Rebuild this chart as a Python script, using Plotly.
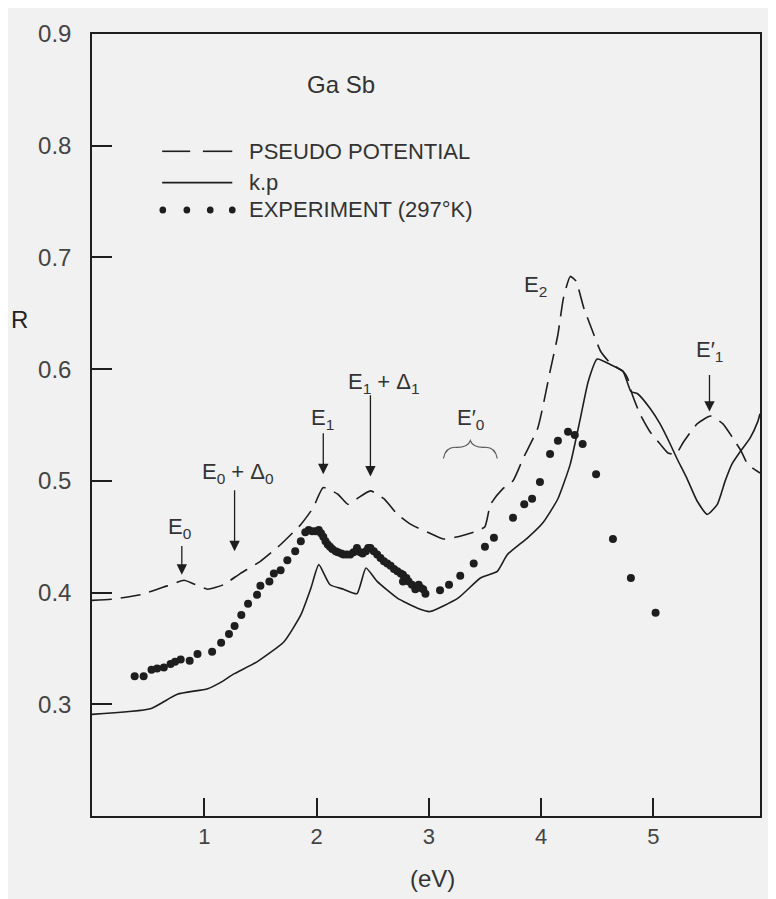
"""
GaSb reflectivity: pseudopotential vs k.p vs experiment
"""
import plotly.graph_objects as go

# pseudopotential curve (dashed)
pseudo_x = [0.0, 0.17, 0.43, 0.67, 0.82, 0.90, 1.03, 1.17, 1.32, 1.50, 1.68, 1.86,
            1.97, 2.06, 2.19, 2.28, 2.36, 2.48, 2.60, 2.72, 2.84, 2.99, 3.13, 3.26,
            3.43, 3.50, 3.55, 3.66, 3.75, 3.84, 3.97, 4.08, 4.15, 4.20, 4.26, 4.31,
            4.38, 4.47, 4.53, 4.62, 4.73, 4.77, 4.81, 4.88, 4.97, 5.06, 5.13, 5.20,
            5.27, 5.39, 5.51, 5.62, 5.71, 5.78, 5.84, 5.95]
pseudo_y = [0.393, 0.394, 0.398, 0.406, 0.411, 0.408, 0.403, 0.407, 0.417, 0.428, 0.443, 0.461,
            0.476, 0.494, 0.488, 0.479, 0.484, 0.491, 0.484, 0.470, 0.461, 0.454, 0.448, 0.450,
            0.455, 0.459, 0.479, 0.493, 0.500, 0.520, 0.547, 0.598, 0.631, 0.664, 0.683, 0.679,
            0.655, 0.631, 0.616, 0.605, 0.598, 0.592, 0.578, 0.560, 0.544, 0.533, 0.525, 0.524,
            0.535, 0.551, 0.558, 0.551, 0.538, 0.527, 0.515, 0.507]

# k.p curve (solid)
kp_x = [0.0, 0.52, 0.76, 1.03, 1.17, 1.26, 1.47, 1.71, 1.86, 1.95, 2.02, 2.12,
        2.24, 2.36, 2.44, 2.54, 2.72, 2.90, 3.01, 3.26, 3.46, 3.61, 3.70, 3.88,
        4.02, 4.15, 4.26, 4.35, 4.42, 4.50, 4.62, 4.73, 4.80, 4.86, 4.97, 5.06,
        5.15, 5.21, 5.30, 5.39, 5.48, 5.57, 5.64, 5.70, 5.78, 5.86, 5.93, 5.95]
kp_y = [0.291, 0.296, 0.309, 0.314, 0.321, 0.327, 0.338, 0.356, 0.380, 0.404, 0.425, 0.407,
        0.403, 0.399, 0.422, 0.410, 0.395, 0.386, 0.383, 0.395, 0.413, 0.419, 0.434, 0.449,
        0.463, 0.484, 0.515, 0.556, 0.589, 0.609, 0.604, 0.598, 0.580, 0.578, 0.565, 0.551,
        0.533, 0.520, 0.502, 0.482, 0.470, 0.479, 0.500, 0.515, 0.527, 0.538, 0.553, 0.560]

# experiment at 297 K (dots)
exp_x = [0.38, 0.46, 0.53, 0.58, 0.64, 0.70, 0.74, 0.79, 0.87, 0.94, 1.07, 1.15,
         1.22, 1.27, 1.33, 1.39, 1.47, 1.50, 1.58, 1.62, 1.68, 1.74, 1.81, 1.86,
         1.90, 1.93, 1.96, 1.99, 2.02, 2.04, 2.06, 2.08, 2.10, 2.12, 2.14, 2.17,
         2.19, 2.22, 2.24, 2.27, 2.30, 2.33, 2.36, 2.39, 2.41, 2.44, 2.46, 2.48,
         2.51, 2.54, 2.57, 2.60, 2.63, 2.66, 2.69, 2.72, 2.75, 2.77, 2.77, 2.80,
         2.82, 2.85, 2.88, 2.91, 2.93, 2.95, 2.97, 3.10, 3.18, 3.28, 3.40, 3.50,
         3.58, 3.75, 3.85, 3.92, 3.99, 4.08, 4.15, 4.24, 4.30, 4.37, 4.49, 4.64,
         4.80, 5.02]
exp_y = [0.325, 0.325, 0.331, 0.332, 0.333, 0.336, 0.338, 0.340, 0.339, 0.345, 0.347, 0.355,
         0.363, 0.370, 0.380, 0.390, 0.398, 0.406, 0.410, 0.417, 0.420, 0.429, 0.437, 0.446,
         0.454, 0.456, 0.455, 0.455, 0.456, 0.453, 0.450, 0.446, 0.443, 0.441, 0.439, 0.437,
         0.436, 0.435, 0.434, 0.434, 0.434, 0.436, 0.440, 0.436, 0.435, 0.437, 0.440, 0.440,
         0.437, 0.434, 0.431, 0.428, 0.426, 0.424, 0.421, 0.419, 0.417, 0.416, 0.410, 0.413,
         0.410, 0.407, 0.403, 0.407, 0.404, 0.403, 0.399, 0.402, 0.407, 0.415, 0.426, 0.441,
         0.449, 0.467, 0.479, 0.484, 0.499, 0.524, 0.536, 0.544, 0.541, 0.533, 0.506, 0.448,
         0.413, 0.382]

x_ticks = [1, 2, 3, 4, 5]
y_ticks = [0.3, 0.4, 0.5, 0.6, 0.7, 0.8, 0.9]
y_tick_labels = ["0.3", "0.4", "0.5", "0.6", "0.7", "0.8", "0.9"]

# transition labels: (text, x, y)
labels = [
    ("E<sub>0</sub>", 0.78, 0.458),
    ("E<sub>0</sub> + Δ<sub>0</sub>", 1.30, 0.507),
    ("E<sub>1</sub>", 2.05, 0.555),
    ("E<sub>1</sub> + Δ<sub>1</sub>", 2.60, 0.588),
    ("E′<sub>0</sub>", 3.37, 0.555),
    ("E<sub>2</sub>", 3.95, 0.674),
    ("E′<sub>1</sub>", 5.50, 0.616),
]
# arrows: (x, y_tail, y_head)
arrows = [
    (0.80, 0.443, 0.416),
    (1.27, 0.493, 0.437),
    (2.06, 0.544, 0.506),
    (2.48, 0.578, 0.504),
    (5.50, 0.596, 0.562),
]

INK = "#1e1e1e"
BG = "#f1f1f1"
FONT = "Liberation Sans"

fig = go.Figure()
fig.add_trace(go.Scatter(x=pseudo_x, y=pseudo_y, mode="lines",
                         line=dict(color=INK, width=1.6, dash="20px,9px",
                                   shape="spline", smoothing=0.5)))
fig.add_trace(go.Scatter(x=kp_x, y=kp_y, mode="lines",
                         line=dict(color=INK, width=1.6, shape="spline", smoothing=0.5)))
fig.add_trace(go.Scatter(x=exp_x, y=exp_y, mode="markers",
                         marker=dict(color=INK, size=8)))

for txt, lx, ly in labels:
    fig.add_annotation(x=lx, y=ly, text=txt, showarrow=False,
                       font=dict(family=FONT, size=22, color="#333"))
for ax_, y0, y1 in arrows:
    fig.add_annotation(x=ax_, y=y1, ax=ax_, ay=y0, axref="x", ayref="y",
                       text="", showarrow=True, arrowhead=2, arrowsize=1.6,
                       arrowwidth=1.3, arrowcolor=INK)

# brace over E'0
fig.add_shape(type="path", xref="x", yref="y",
              path="M 3.13,0.520 Q 3.15,0.531 3.25,0.530 Q 3.35,0.530 3.37,0.536 "
                   "Q 3.39,0.530 3.49,0.530 Q 3.59,0.531 3.61,0.520",
              line=dict(color="#555", width=1.2))

# title and hand-drawn legend like the original
fig.add_annotation(x=0.373, y=0.935, xref="paper", yref="paper", text="Ga Sb",
                   xanchor="center", yanchor="middle", showarrow=False,
                   font=dict(family=FONT, size=24, color="#333"))
leg_rows = [0.850, 0.810, 0.775]
leg_text = ["PSEUDO POTENTIAL", "k.p", "EXPERIMENT (297°K)"]
for yy, t in zip(leg_rows, leg_text):
    fig.add_annotation(x=0.232, y=yy, xref="paper", yref="paper", text=t,
                       xanchor="left", yanchor="middle", showarrow=False,
                       font=dict(family=FONT, size=22, color="#333"))
fig.add_shape(type="line", xref="paper", yref="paper", x0=0.105, x1=0.147,
              y0=leg_rows[0], y1=leg_rows[0], line=dict(color=INK, width=1.6))
fig.add_shape(type="line", xref="paper", yref="paper", x0=0.166, x1=0.210,
              y0=leg_rows[0], y1=leg_rows[0], line=dict(color=INK, width=1.6))
fig.add_shape(type="line", xref="paper", yref="paper", x0=0.105, x1=0.210,
              y0=leg_rows[1], y1=leg_rows[1], line=dict(color=INK, width=1.6))
for dx in [0.106, 0.142, 0.177, 0.210]:
    fig.add_shape(type="circle", xref="paper", yref="paper",
                  x0=dx - 0.005, x1=dx + 0.005, y0=leg_rows[2] - 0.0045,
                  y1=leg_rows[2] + 0.0045, fillcolor=INK, line=dict(width=0))

fig.add_annotation(x=-0.108, y=0.635, xref="paper", yref="paper", text="R",
                   xanchor="center", yanchor="middle", showarrow=False,
                   font=dict(family=FONT, size=24, color="#222"))
fig.add_annotation(x=0.51, y=-0.08, xref="paper", yref="paper", text="(eV)",
                   xanchor="center", yanchor="middle", showarrow=False,
                   font=dict(family=FONT, size=24, color="#333"))

fig.update_xaxes(range=[0, 5.95], tickvals=x_ticks, ticks="inside", ticklen=18,
                 tickwidth=1.5, tickcolor=INK, showline=True, linecolor=INK,
                 linewidth=1.5, mirror=True, showgrid=False, zeroline=False,
                 tickfont=dict(family=FONT, size=22, color="#444"))
fig.update_yaxes(range=[0.2, 0.9], tickvals=y_ticks, ticktext=y_tick_labels,
                 ticks="inside", ticklen=20, tickwidth=1.5, tickcolor=INK,
                 showline=True, linecolor=INK, linewidth=1.5, mirror=True,
                 showgrid=False, zeroline=False, ticklabelstandoff=14,
                 tickfont=dict(family=FONT, size=24, color="#444"))
# page body adds an 8px margin, so the figure is a little smaller than the window
fig.update_layout(width=768, height=891, showlegend=False,
                  paper_bgcolor=BG, plot_bgcolor=BG,
                  margin=dict(l=84, r=16, t=24, b=83))

fig.write_html("out.html")
